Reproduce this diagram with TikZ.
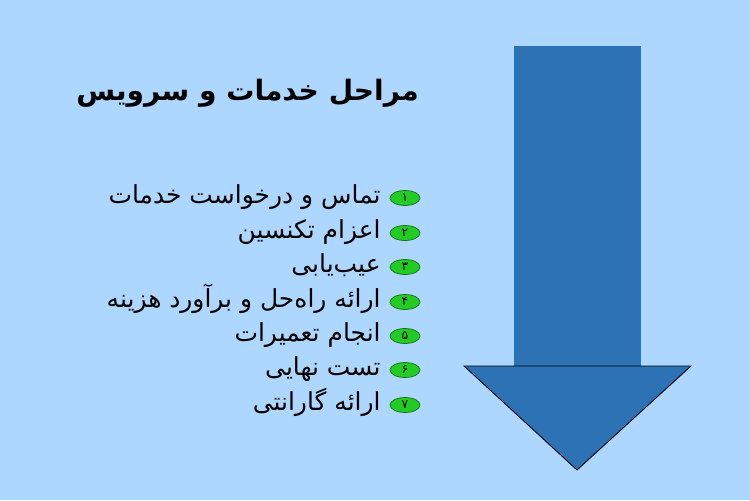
\documentclass[tikz,border=0pt]{standalone}
\usepackage{fontspec}
\usepackage{tikz}
\usetikzlibrary{shapes.geometric}
\TeXXeTstate=1
\newfontfamily\arabicfont[Script=Arabic]{DejaVu Sans}
\definecolor{bgblue}{RGB}{173,215,255}
\definecolor{arrowblue}{RGB}{44,114,180}
\definecolor{badgegreen}{RGB}{34,204,34}
\definecolor{badgeline}{RGB}{20,110,20}

\begin{document}
\begin{tikzpicture}[x=0.02cm,y=-0.02cm,
  badge/.style={shape=ellipse,draw=badgeline,fill=badgegreen,line width=0.4pt,
    minimum width=30*0.02cm,minimum height=15*0.02cm,inner sep=0pt,
    font=\arabicfont\fontsize{7}{7}\selectfont},
  item/.style={anchor=base east,inner sep=0pt,font=\arabicfont\fontsize{14.2}{16}\selectfont},
  title/.style={anchor=base east,inner sep=0pt,font=\arabicfont\bfseries\fontsize{16}{19}\selectfont}]
\fill[bgblue] (0,0) rectangle (750,500);
\useasboundingbox (0,0) rectangle (750,500);
% arrow
\fill[arrowblue] (514,46) rectangle (641,366);
\draw[fill=arrowblue,draw=black,line width=0.5pt] (464,366) -- (691,366) -- (577,470) -- cycle;
% title
\node[title] (T) at (419,101) {\beginR مراحل خدمات و سرویس\endR};
% steps
\node[badge] (N1) at (405,198) {\beginR ۱\endR};
\node[badge] (N2) at (405,233) {\beginR ۲\endR};
\node[badge] (N3) at (405,267) {\beginR ۳\endR};
\node[badge] (N4) at (405,302) {\beginR ۴\endR};
\node[badge] (N5) at (405,336) {\beginR ۵\endR};
\node[badge] (N6) at (405,370) {\beginR ۶\endR};
\node[badge] (N7) at (405,405) {\beginR ۷\endR};
\node[item] (S1) at (381,203) {\beginR تماس و درخواست خدمات\endR};
\node[item] (S2) at (381,238) {\beginR اعزام تکنسین\endR};
\node[item] (S3) at (381,272) {\beginR عیب‌یابی\endR};
\node[item] (S4) at (381,307) {\beginR ارائه راه‌حل و برآورد هزینه\endR};
\node[item] (S5) at (381,341) {\beginR انجام تعمیرات\endR};
\node[item] (S6) at (381,375) {\beginR تست نهایی\endR};
\node[item] (S7) at (381,410) {\beginR ارائه گارانتی\endR};
\end{tikzpicture}
\end{document}
